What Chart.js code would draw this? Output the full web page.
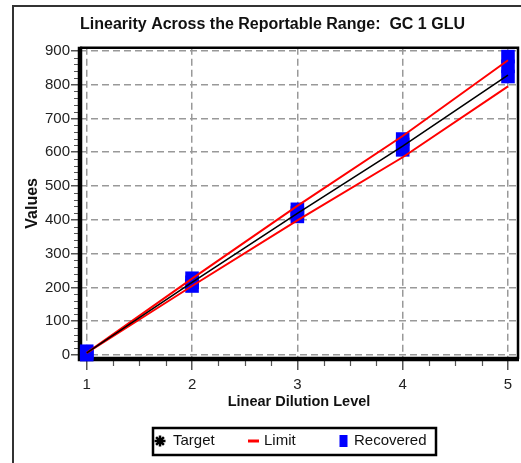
<!DOCTYPE html>
<html><head><meta charset="utf-8">
<script src="https://cdn.jsdelivr.net/npm/chart.js@4"></script>
<style>html,body{margin:0;padding:0;background:#fff;overflow:hidden}#wrap{width:521px;height:463px}</style>
</head><body><div id="wrap"><canvas id="c" width="521" height="463"></canvas></div>
<script>
const chartTitle = 'Linearity Across the Reportable Range:  GC 1 GLU';
const xAxisTitle = 'Linear Dilution Level';
const yAxisTitle = 'Values';
const dilutionLevels = [1, 2, 3, 4, 5];
const targetValues = [6, 215, 419, 618, 828];
const upperLimit = [6.3, 226, 441, 648, 872];
const lowerLimit = [5.7, 204, 398, 585, 795];
const recoveredRep1 = [11, 227, 431, 639, 883];
const recoveredRep2 = [6, 215, 420, 623, 854];
const recoveredRep3 = [1, 204, 410, 607, 824];
const xTickValues = [1, 2, 3, 4, 5];
const yTickValues = [0, 100, 200, 300, 400, 500, 600, 700, 800, 900];
const legendLabels = ['Target', 'Limit', 'Recovered'];

const pts = (xs, ys) => xs.map((x, i) => ({x: x, y: ys[i]}));
const recoveredPoints = pts(dilutionLevels, recoveredRep1)
  .concat(pts(dilutionLevels, recoveredRep2))
  .concat(pts(dilutionLevels, recoveredRep3));

const FONT = "'Liberation Sans', Arial, sans-serif";

const framePlugin = {
  id: 'frame',
  beforeDraw(chart) {
    const ctx = chart.ctx;
    ctx.save();
    ctx.fillStyle = '#fff';
    ctx.fillRect(0, 0, chart.width, chart.height);
    ctx.strokeStyle = '#333';
    ctx.lineWidth = 2;
    ctx.strokeRect(13, 6, 700, 700);
    ctx.restore();
  },
  beforeDatasetsDraw(chart) {
    const ctx = chart.ctx;
    const a = chart.chartArea;
    const xs = chart.scales.x, ys = chart.scales.y;
    ctx.save();
    ctx.strokeStyle = '#555';
    ctx.lineWidth = 1.2;
    ctx.beginPath();
    for (let v = 20; v < 900; v += 20) {
      if (v % 100 === 0) continue;
      const py = Math.round(ys.getPixelForValue(v)) + 0.5;
      ctx.moveTo(a.left - 6, py); ctx.lineTo(a.left - 2, py);
    }
    for (let v = 1.25; v < 5; v += 0.25) {
      if (Number.isInteger(v)) continue;
      const px = Math.round(xs.getPixelForValue(v)) + 0.5;
      ctx.moveTo(px, a.bottom + 2); ctx.lineTo(px, a.bottom + 7);
    }
    ctx.stroke();
    ctx.strokeStyle = '#000';
    ctx.lineWidth = 2.5;
    ctx.beginPath();
    ctx.moveTo(a.left, a.top); ctx.lineTo(a.right, a.top); ctx.lineTo(a.right, a.bottom);
    ctx.stroke();
    ctx.lineWidth = 4.5;
    ctx.beginPath();
    ctx.moveTo(a.left, a.top - 1); ctx.lineTo(a.left, a.bottom); ctx.lineTo(a.right + 1, a.bottom);
    ctx.stroke();
    ctx.restore();
  },
  afterDraw(chart) {
    const ctx = chart.ctx;
    const ds = chart.data.datasets;
    ctx.save();
    ctx.strokeStyle = '#000';
    ctx.lineWidth = 2.5;
    ctx.strokeRect(153, 428, 283, 27);
    const cy = 441;
    ctx.font = '15px ' + FONT;
    ctx.textBaseline = 'middle';
    ctx.strokeStyle = ds[0].borderColor;
    ctx.fillStyle = ds[0].borderColor;
    Chart.helpers.drawPoint(ctx, {pointStyle: 'star', radius: 5.5, borderWidth: 2.5, rotation: 0}, 160, cy);
    ctx.fillStyle = '#111';
    ctx.fillText(legendLabels[0], 173, cy);
    ctx.strokeStyle = ds[1].borderColor;
    ctx.lineWidth = 3;
    ctx.beginPath(); ctx.moveTo(248, cy); ctx.lineTo(259, cy); ctx.stroke();
    ctx.fillText(legendLabels[1], 264, cy);
    ctx.fillStyle = ds[3].backgroundColor;
    ctx.fillRect(339.5, cy - 6, 8, 12);
    ctx.fillStyle = '#111';
    ctx.fillText(legendLabels[2], 354, cy);
    ctx.restore();
  }
};

new Chart(document.getElementById('c'), {
  type: 'scatter',
  data: {
    datasets: [
      {label: 'Target', data: pts(dilutionLevels, targetValues), showLine: true, borderColor: '#000', borderWidth: 1.6, pointRadius: 0, tension: 0, clip: false},
      {label: 'Limit', data: pts(dilutionLevels, upperLimit), showLine: true, borderColor: '#ff0000', borderWidth: 2, pointRadius: 0, tension: 0, clip: false},
      {label: 'Limit', data: pts(dilutionLevels, lowerLimit), showLine: true, borderColor: '#ff0000', borderWidth: 2, pointRadius: 0, tension: 0, clip: false},
      {label: 'Recovered', data: recoveredPoints, showLine: false, pointStyle: 'rect', pointRadius: 9.6, pointHoverRadius: 9.6, backgroundColor: '#0000ff', borderColor: '#0000ff', borderWidth: 0, clip: false}
    ]
  },
  options: {
    responsive: false,
    animation: false,
    devicePixelRatio: 1,
    layout: {autoPadding: false, padding: {left: 15, right: 3, top: 0, bottom: 52}},
    plugins: {
      legend: {display: false},
      tooltip: {enabled: false},
      title: {
        display: true, text: chartTitle, fullSize: false, align: 'start',
        color: '#111', font: {family: FONT, size: 16, weight: 'bold'},
        padding: {top: 15, bottom: 13.6}
      }
    },
    scales: {
      x: {
        type: 'linear', min: 0.936, max: 5.095,
        afterBuildTicks: s => { s.ticks = xTickValues.map(v => ({value: v})); },
        afterFit: s => { s.height = 52; s.paddingLeft = 0; s.paddingRight = 0; },
        ticks: {color: '#222', font: {family: FONT, size: 15}, padding: 6, maxRotation: 0},
        grid: {color: '#999', lineWidth: 1.5, drawTicks: true, tickLength: 11, tickColor: '#555', tickWidth: 1.5},
        border: {display: false, dash: [7, 4]},
        title: {display: true, text: xAxisTitle, color: '#111', font: {family: FONT, size: 14.5, weight: 'bold'}, padding: {top: 0, bottom: 0}}
      },
      y: {
        type: 'linear', min: -12, max: 909,
        afterBuildTicks: s => { s.ticks = yTickValues.map(v => ({value: v})); },
        afterFit: s => { s.width = 65; s.paddingTop = 0; s.paddingBottom = 0; },
        ticks: {color: '#222', font: {family: FONT, size: 15}, padding: 1},
        grid: {color: '#999', lineWidth: 1.5, drawTicks: true, tickLength: 9, tickColor: '#555', tickWidth: 1.5},
        border: {display: false, dash: [7, 4]},
        title: {display: true, text: yAxisTitle, color: '#111', font: {family: FONT, size: 16, weight: 'bold'}, padding: {top: 8, bottom: 0}}
      }
    }
  },
  plugins: [framePlugin]
});
</script></body></html>
